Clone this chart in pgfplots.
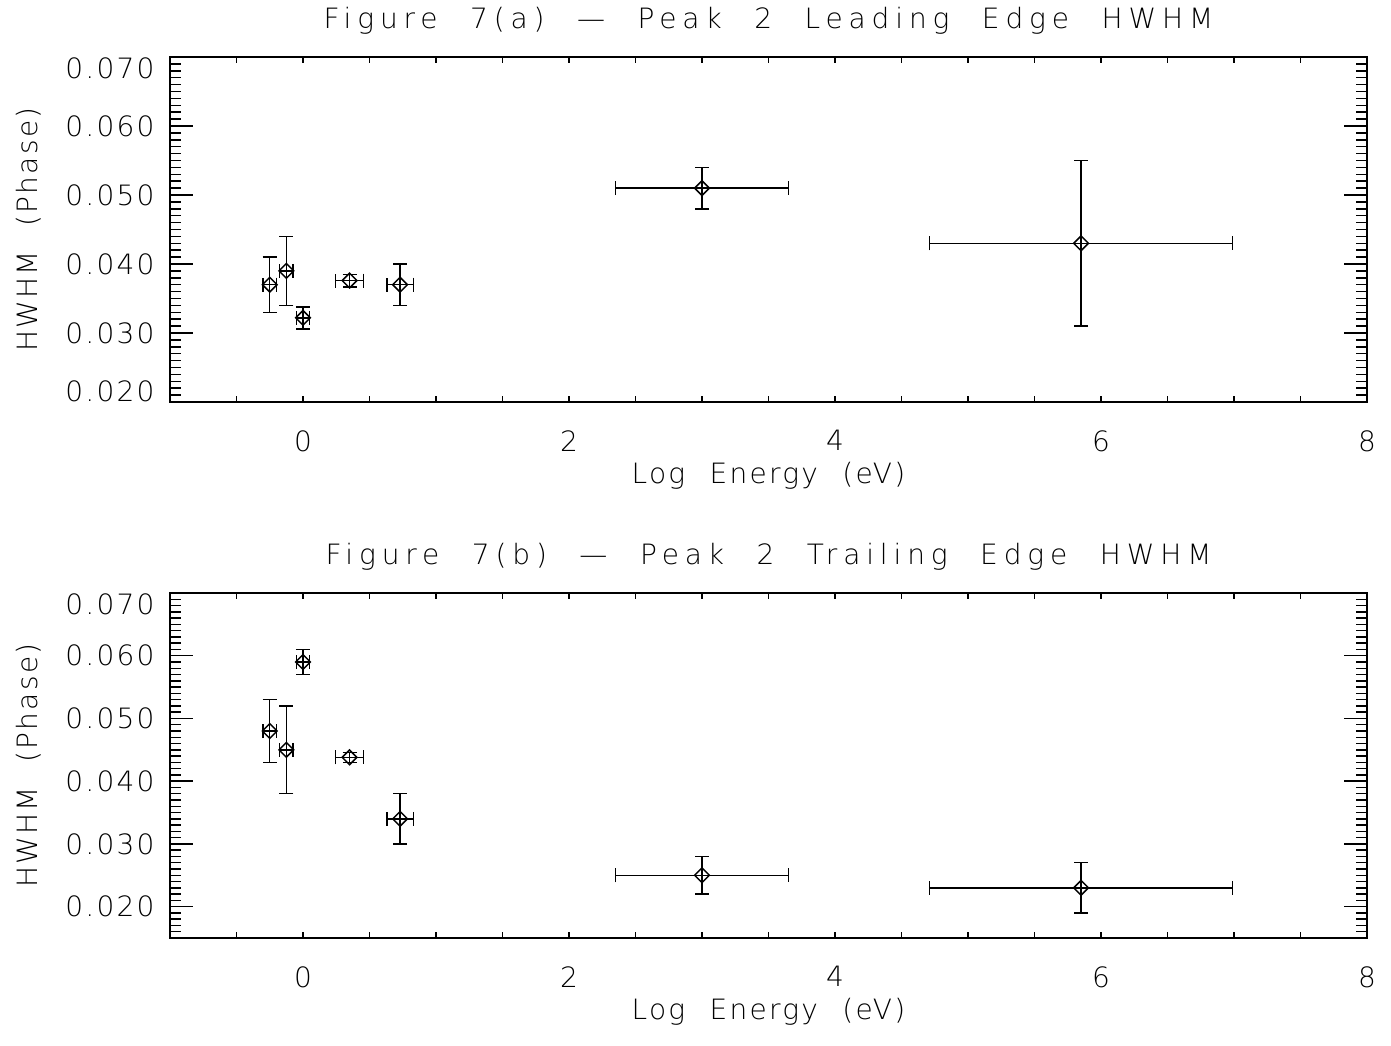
\documentclass[border=0pt]{standalone}
\usepackage{fontspec}
\setmainfont{DejaVu Sans ExtraLight}[WordSpace=2.2, LetterSpace=8]
\newfontfamily\titlefont{DejaVu Sans ExtraLight}[WordSpace=2.2, LetterSpace=21]
\usepackage{pgfplots}
\pgfplotsset{compat=1.18}

\pgfplotsset{
  hwhm/.style={
    scale only axis, width=598.5pt, height=172.5pt,
    xmin=-1, xmax=8, ymax=0.070,
    scaled y ticks=false,
    axis line style={line width=0.75pt},
    every tick/.append style={black, line width=0.75pt},
    tick align=inside,
    xtick pos=both, ytick pos=both,
    xtick=\empty,
    extra x ticks={-0.5,0,0.5,1,1.5,2,2.5,3,3.5,4,4.5,5,5.5,6,6.5,7,7.5,8},
    extra x tick labels={,0,,,,2,,,,4,,,,6,,,,8},
    extra x tick style={major tick length=3pt, grid=none},
    ytick={0.020,0.030,0.040,0.050,0.060,0.070},
    major tick length=11.5pt, minor tick length=5.5pt,
    xticklabel style={anchor=north, inner sep=0pt, yshift=-14pt},
    yticklabel style={anchor=east, inner sep=0pt, xshift=-7.5pt},
    xlabel={Log Energy (eV)},
    ylabel={HWHM (Phase)},
    xlabel style={at={(axis description cs:0.5,-0.2348)}, anchor=base},
    ylabel style={at={(axis description cs:-0.1111,0.5)}, anchor=base},
    every axis title shift=0pt,
    title style={at={(axis description cs:0.5,1.0812)}, anchor=base,
      font=\fontsize{14}{17}\titlefont},
    error bars/error bar style={line width=0.75pt},
    error bars/error mark options={rotate=90, mark size=3.5pt, line width=0.75pt},
  },
  pts/.style={
    only marks, black, line width=0.75pt,
    mark=square, mark size=2.6pt, mark options={rotate=45, solid},
    error bars/.cd, x dir=both, x explicit, y dir=both, y explicit,
  },
}

\begin{document}
\fontsize{14}{17}\selectfont
\begin{tikzpicture}
\useasboundingbox (-85pt,28.5pt) rectangle (610.5pt,-494pt);

\begin{axis}[hwhm, at={(0,0)}, anchor=north west,
  ymin=0.020,
  minor ytick={0.020,0.021,...,0.070},
  yticklabels={\raisebox{0.4pt}{\smash{0.020}},0.030,0.040,0.050,0.060,\smash{\raisebox{-10.6pt}{0.070}}},
  title={Figure 7(a) \textemdash{} Peak 2 Leading Edge HWHM}]
\addplot[pts] coordinates {
  (-0.25,0.037)  +- (0.05,0.004)
  (-0.125,0.039) +- (0.05,0.005)
  (0,0.0322)     +- (0.05,0.0016)
  (0.35,0.0376)  +- (0.105,0.0009)
  (0.73,0.037)   +- (0.1,0.003)
  (3.0,0.051)    +- (0.65,0.003)
  (5.85,0.043)   +- (1.14,0.012)
};
\end{axis}

\begin{axis}[hwhm, at={(0,-268pt)}, anchor=north west,
  ymin=0.015,
  minor ytick={0.015,0.016,...,0.070},
  yticklabels={0.020,0.030,0.040,0.050,0.060,\smash{\raisebox{-10.6pt}{0.070}}},
  title={Figure 7(b) \textemdash{} Peak 2 Trailing Edge HWHM}]
\addplot[pts] coordinates {
  (-0.25,0.048)  +- (0.05,0.005)
  (-0.125,0.045) +- (0.05,0.007)
  (0,0.059)      +- (0.05,0.002)
  (0.35,0.0438)  +- (0.105,0.0008)
  (0.73,0.034)   +- (0.1,0.004)
  (3.0,0.025)    +- (0.65,0.003)
  (5.85,0.023)   +- (1.14,0.004)
};
\end{axis}
\end{tikzpicture}
\end{document}
